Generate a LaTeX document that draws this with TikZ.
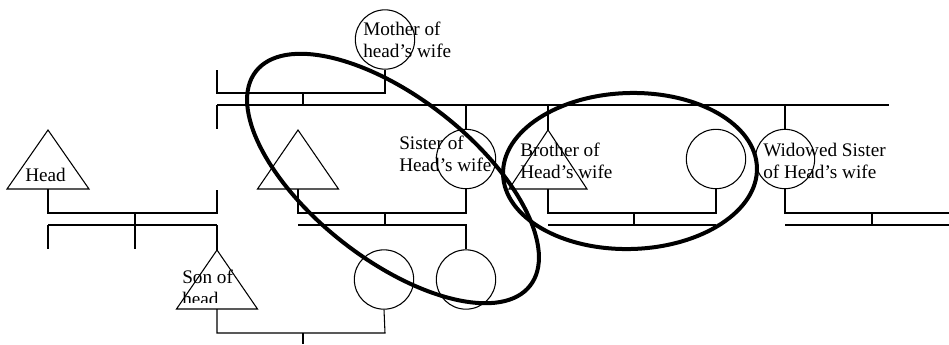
\documentclass[tikz,border=0pt]{standalone}
\usepackage{fontspec}
\setmainfont{Liberation Serif}
\usetikzlibrary{shapes.geometric}
\tikzset{
  kin/.style={line width=0.8pt},
  fem/.style={circle,draw,line width=0.8pt,minimum size=44.5pt,inner sep=0pt},
  lbl/.style={anchor=base west,inner sep=0pt,font=\fontsize{14.4pt}{16.5pt}\selectfont},
  ring/.style={ellipse,draw,line width=3pt,inner sep=0pt},
}
% triangle: name, apex x, apex y, base y, half width
\newcommand{\kintri}[5]{%
  \draw[kin] (#2,#3) -- (#2+#5,#4) -- (#2-#5,#4) -- cycle;
  \coordinate (#1-top) at (#2,#3);
  \coordinate (#1-bot) at (#2,#4);}
\begin{document}
\begin{tikzpicture}[x=0.75pt,y=-0.75pt]
\useasboundingbox (0,0) rectangle (949,344);
% circles (females)
\node[fem] (mother) at (385,39.5) {};
\node[fem] (sister) at (466,159) {};
\node[fem] (bwife) at (716,159) {};
\node[fem] (widow) at (785,159) {};
\node[fem] (sonwife) at (384,279.5) {};
\node[fem] (niece) at (466,279.5) {};
% triangles (males)
\kintri{head}{48}{130}{189}{41}
\kintri{shusb}{298}{130}{189}{40.5}
\kintri{son}{217}{250}{309}{40.5}
\kintri{brother}{548}{130}{189}{39}
% invisible figures
\coordinate (father) at (217,70);
\coordinate (sib) at (217,129);
\coordinate (hwife) at (217,190);
% parents generation
\coordinate (m1) at (385,93);
\coordinate (m2) at (217,93);
\coordinate (mt) at (303,93);
\coordinate (mb) at (303,105);
\draw[kin] (mother.south) -- (m1) -- (m2) -- (father);
\draw[kin] (mt) -- (mb);
% siblings bar
\coordinate (sbL) at (217,105);
\coordinate (sbR) at (889,105);
\draw[kin] (sbL) -- (sbR);
\draw[kin] (sbL) -- (sib);
\draw[kin] (sister.north |- sbL) -- (sister.north);
\draw[kin] (brother-top |- sbL) -- (brother-top);
\draw[kin] (widow.north |- sbL) -- (widow.north);
% head marriage
\coordinate (h1) at (48,213);
\coordinate (h2) at (217,213);
\coordinate (ht) at (135,213);
\coordinate (hb) at (135,225);
\draw[kin] (head-bot) -- (h1) -- (h2) -- (hwife);
\draw[kin] (ht) -- (hb);
\coordinate (hc1) at (48,225);
\coordinate (hc3) at (217,225);
\draw[kin] (hc1) -- (hc3);
\coordinate (hk1) at (48,249);
\coordinate (hk2) at (135,249);
\draw[kin] (hc1) -- (hk1);
\draw[kin] (hb) -- (hk2);
\draw[kin] (hc3) -- (son-top);
% son marriage
\coordinate (s1) at (217,333);
\coordinate (s2) at (385,333);
\coordinate (st) at (303,333);
\coordinate (sb) at (303,344);
\draw[kin] (son-bot) -- (s1) -- (s2) -- (sonwife.south);
\draw[kin] (st) -- (sb);
% sister marriage
\coordinate (p1) at (298,213);
\coordinate (p2) at (466,213);
\coordinate (pt) at (385,213);
\coordinate (pb) at (385,225);
\draw[kin] (shusb-bot) -- (p1) -- (p2) -- (sister.south);
\draw[kin] (pt) -- (pb);
\coordinate (pc1) at (298,225);
\coordinate (pc2) at (466,225);
\draw[kin] (pc1) -- (pc2) -- (niece.north);
% brother marriage
\coordinate (b1) at (548,213);
\coordinate (b2) at (716,213);
\coordinate (bt) at (634,213);
\coordinate (bb) at (634,225);
\draw[kin] (brother-bot) -- (b1) -- (b2) -- (bwife.south);
\draw[kin] (bt) -- (bb);
\coordinate (bc1) at (548,225);
\coordinate (bc2) at (716,225);
\draw[kin] (bc1) -- (bc2);
% widowed sister
\coordinate (w1) at (785,213);
\coordinate (w2) at (949,213);
\coordinate (wt) at (872,213);
\coordinate (wb) at (872,225);
\draw[kin] (widow.south) -- (w1) -- (w2);
\draw[kin] (wt) -- (wb);
\coordinate (wc1) at (785,225);
\coordinate (wc2) at (949,225);
\draw[kin] (wc1) -- (wc2);
% labels
\node[lbl] (tmother) at (363,35) {\begin{tabular}[t]{@{}l@{}}Mother of\\head’s wife\end{tabular}};
\node[lbl] (thead) at (25,181) {Head};
\node[lbl] (tsister) at (399,149) {\begin{tabular}[t]{@{}l@{}}Sister of\\Head’s wife\end{tabular}};
\node[lbl] (tbrother) at (520,156) {\begin{tabular}[t]{@{}l@{}}Brother of\\Head’s wife\end{tabular}};
\node[lbl] (twidow) at (763,156) {\begin{tabular}[t]{@{}l@{}}Widowed Sister\\of Head’s wife\end{tabular}};
\begin{scope}
\clip (150,260) rectangle (300,302);
\node[lbl] (tson) at (182,283) {\begin{tabular}[t]{@{}l@{}}Son of\\head\end{tabular}};
\end{scope}
% rings
\node[ring,minimum width=261pt,minimum height=121.5pt,rotate=-38] (e1) at (393,178.5) {};
\node[ring,minimum width=190.5pt,minimum height=117pt,rotate=1.5] (e2) at (630,171) {};
\end{tikzpicture}
\end{document}
